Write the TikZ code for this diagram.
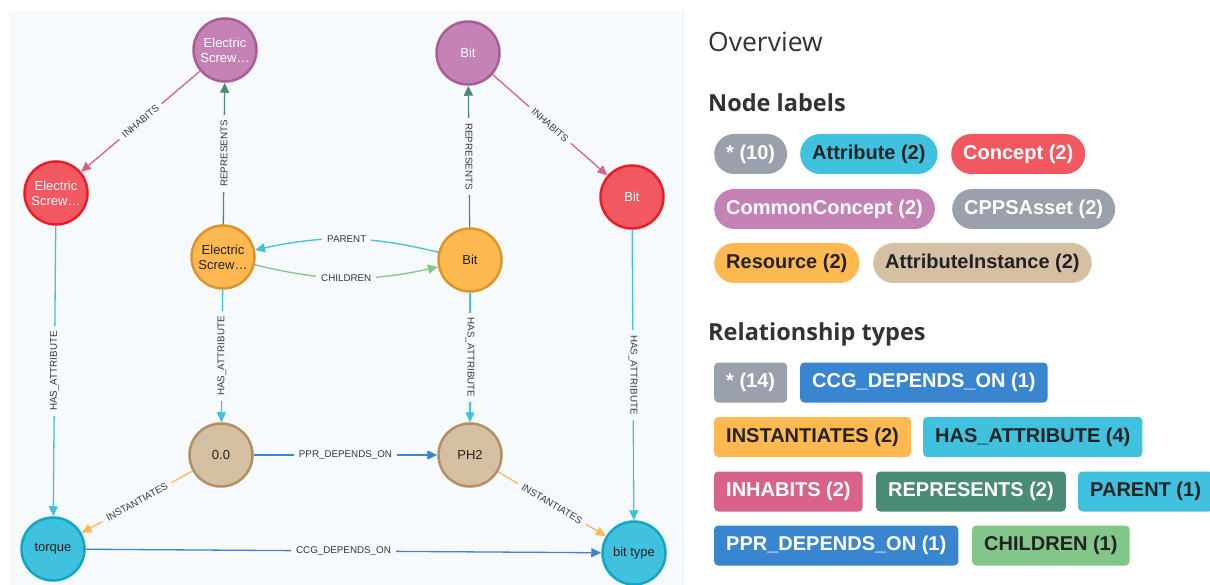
\documentclass[tikz,border=0pt]{standalone}
\usepackage{fontspec}
\setmainfont{Liberation Sans}
\newfontfamily\headfont{Open Sans}
\usetikzlibrary{arrows.meta}

\definecolor{panelbg}{RGB}{247,250,253}
\definecolor{divider}{RGB}{234,238,243}
\definecolor{ccfill}{RGB}{197,130,180}  \definecolor{ccdraw}{RGB}{170,92,152}
\definecolor{cofill}{RGB}{242,88,96}    \definecolor{codraw}{RGB}{232,30,40}
\definecolor{rsfill}{RGB}{255,185,80}   \definecolor{rsdraw}{RGB}{216,150,45}
\definecolor{aifill}{RGB}{214,192,164}  \definecolor{aidraw}{RGB}{178,143,100}
\definecolor{atfill}{RGB}{64,193,221}   \definecolor{atdraw}{RGB}{18,165,200}
\definecolor{graypill}{RGB}{154,161,172}
\definecolor{bluerel}{RGB}{58,133,207}
\definecolor{pinkrel}{RGB}{216,98,138}
\definecolor{greenrel}{RGB}{74,140,115}
\definecolor{lgreenrel}{RGB}{130,198,138}
\definecolor{cyanrel}{RGB}{64,193,221}
\definecolor{orangerel}{RGB}{255,185,80}
\definecolor{textdark}{RGB}{34,34,34}
\definecolor{headtext}{RGB}{51,51,51}
\definecolor{labeltext}{RGB}{55,55,55}

\tikzset{
  gnode/.style={circle, minimum size=63pt, inner sep=0pt, line width=2.5pt, align=center,
    font=\fontsize{13}{15}\selectfont},
  ccnode/.style={gnode, fill=ccfill, draw=ccdraw, text=white},
  conode/.style={gnode, fill=cofill, draw=codraw, text=white},
  rsnode/.style={gnode, fill=rsfill, draw=rsdraw, text=textdark},
  ainode/.style={gnode, fill=aifill, draw=aidraw, text=textdark},
  atnode/.style={gnode, fill=atfill, draw=atdraw, text=textdark},
  rel/.style={line width=1.3pt, -{Triangle[length=10pt,width=9pt]}},
  elabel/.style={fill=panelbg, inner xsep=5pt, inner ysep=1.5pt, text=labeltext,
    font=\fontsize{9.8}{10}\selectfont},
  pillbase/.style={minimum height=40pt, inner xsep=12pt, inner ysep=0pt, anchor=west,
    font=\bfseries\fontsize{20}{24}\selectfont},
  lpill/.style={pillbase, rounded corners=20pt},
  rpill/.style={pillbase, rounded corners=4pt},
  heading/.style={anchor=base west, inner sep=0pt, text=headtext},
}

\begin{document}
\begin{tikzpicture}[x=1pt, y=-1pt]
\useasboundingbox (0,0) rectangle (1210,585);
\begin{scope}
\clip (0,0) rectangle (1210,585);
\fill[white] (0,0) rectangle (1210,585);
\fill[panelbg] (9,10) rectangle (683,585);
\draw[divider, line width=1.5pt] (683.5,10) -- (683.5,585);

% graph nodes
\node[ccnode] (ccES) at (225,50) {Electric\\Screw…};
\node[ccnode] (ccBit) at (468,53) {Bit};
\node[conode] (coES) at (56,193) {Electric\\Screw…};
\node[conode] (coBit) at (632,197) {Bit};
\node[rsnode] (rsES) at (223,257) {Electric\\Screw…};
\node[rsnode] (rsBit) at (470,260) {Bit};
\node[ainode] (aiZero) at (221,455) {0.0};
\node[ainode] (aiPH) at (470,455) {PH2};
\node[atnode] (atTorque) at (53,549) {torque};
\node[atnode] (atBit) at (634,553) {bit type};

% connectors
\draw[rel, pinkrel] (ccES) -- node[elabel, sloped]{INHABITS} (coES);
\draw[rel, pinkrel] (ccBit) -- node[elabel, sloped]{INHABITS} (coBit);
\draw[rel, greenrel] (rsES) -- node[elabel, rotate=90]{REPRESENTS} (ccES);
\draw[rel, greenrel] (rsBit) -- node[elabel, rotate=-90]{REPRESENTS} (ccBit);
\draw[rel, cyanrel] (rsBit) to[bend right=13] node[elabel]{PARENT} (rsES);
\draw[rel, lgreenrel] (rsES) to[bend right=13] node[elabel]{CHILDREN} (rsBit);
\draw[rel, cyanrel] (rsES) -- node[elabel, rotate=90]{HAS\_ATTRIBUTE} (aiZero);
\draw[rel, cyanrel] (rsBit) -- node[elabel, rotate=-90]{HAS\_ATTRIBUTE} (aiPH);
\draw[rel, cyanrel] (coES) -- node[elabel, rotate=90]{HAS\_ATTRIBUTE} (atTorque);
\draw[rel, cyanrel] (coBit) -- node[elabel, rotate=-90]{HAS\_ATTRIBUTE} (atBit);
\draw[rel, bluerel] (aiZero) -- node[elabel]{PPR\_DEPENDS\_ON} (aiPH);
\draw[rel, orangerel] (aiZero) -- node[elabel, sloped]{INSTANTIATES} (atTorque);
\draw[rel, orangerel] (aiPH) -- node[elabel, sloped]{INSTANTIATES} (atBit);
\draw[rel, bluerel] (atTorque) -- node[elabel]{CCG\_DEPENDS\_ON} (atBit);

% overview panel
\node[heading, font=\headfont\fontsize{26.5}{30}\selectfont] (hOverview) at (708,52) {Overview};
\node[heading, font=\headfont\bfseries\fontsize{23.5}{27}\selectfont] (hNode) at (708,112) {Node labels};
\node[heading, font=\headfont\bfseries\fontsize{23.5}{27}\selectfont] (hRel) at (708,341) {Relationship types};

\node[lpill, fill=graypill, text=white] (nAll) at (714,154) {* (10)};
\node[lpill, fill=atfill, text=textdark] (nAttr) at (800,154) {Attribute (2)};
\node[lpill, fill=cofill, text=white] (nConcept) at (951,154) {Concept (2)};
\node[lpill, fill=ccfill, text=white] (nCommon) at (714,209) {CommonConcept (2)};
\node[lpill, fill=graypill, text=white] (nCPPS) at (952,209) {CPPSAsset (2)};
\node[lpill, fill=rsfill, text=textdark] (nRes) at (714,263) {Resource (2)};
\node[lpill, fill=aifill, text=textdark] (nAI) at (873,263) {AttributeInstance (2)};

\node[rpill, fill=graypill, text=white] (rAll) at (714,382.5) {* (14)};
\node[rpill, fill=bluerel, text=white] (rCCG) at (800,382.5) {CCG\_DEPENDS\_ON (1)};
\node[rpill, fill=orangerel, text=textdark] (rInst) at (714,437) {INSTANTIATES (2)};
\node[rpill, fill=cyanrel, text=textdark] (rHas) at (923,437) {HAS\_ATTRIBUTE (4)};
\node[rpill, fill=pinkrel, text=white] (rInh) at (714,491.5) {INHABITS (2)};
\node[rpill, fill=greenrel, text=white] (rRep) at (876,491.5) {REPRESENTS (2)};
\node[rpill, fill=cyanrel, text=textdark] (rPar) at (1078,491.5) {PARENT (1)};
\node[rpill, fill=bluerel, text=white] (rPPR) at (714,545.5) {PPR\_DEPENDS\_ON (1)};
\node[rpill, fill=lgreenrel, text=textdark] (rChi) at (972,545.5) {CHILDREN (1)};
\end{scope}
\end{tikzpicture}
\end{document}
